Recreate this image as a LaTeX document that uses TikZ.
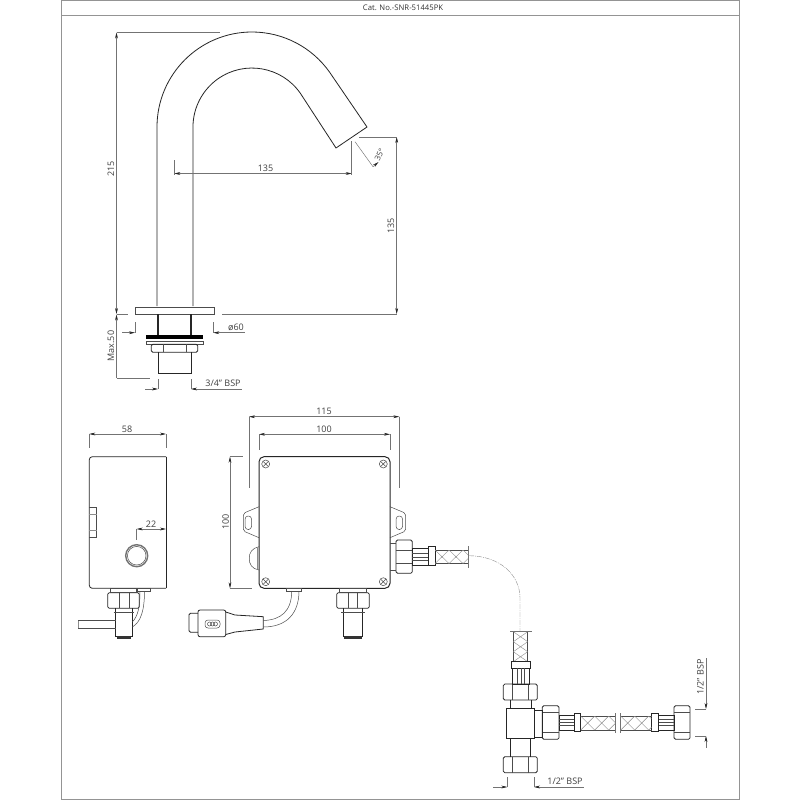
\documentclass[tikz,border=0pt]{standalone}
\usepackage{fontspec}
\setmainfont{Open Sans}
\usetikzlibrary{arrows.meta}
\tikzset{
  outl/.style={black!85,line width=.8pt},
  thin outl/.style={black!70,line width=.5pt},
  dim/.style={black!55,line width=.45pt},
  dimarr/.style={dim,>={Stealth[length=6pt,width=2.8pt,black!85]}},
  hatch/.style={black!45,line width=.4pt},
  txt/.style={inner sep=0pt,text=black!75,font=\fontsize{9}{10}\selectfont},
  ttl/.style={inner sep=0pt,text=black!80,font=\fontsize{7.7}{10}\selectfont},
}
\begin{document}
\begin{tikzpicture}[x=1pt,y=-1pt]
    \useasboundingbox (0,0) rectangle (800,800);
    \fill[white] (0,0) rectangle (800,800);

    % marco
    \draw[black!42,line width=.9pt] (61,.5) rectangle (739,799);
    \draw[black!42,line width=.9pt] (61,15) -- (739,15);
    \node[ttl] (title) at (403,7.5) {Cat. No.-SNR-51445PK};

    % grifo
    \draw[outl] (157,306) -- (157,127) arc (180:325:95) -- (367,127) -- (336,148)
        -- (300.3,93.2) arc (325:180:59) -- (193,306);
    \draw[thin outl,line width=.7pt] (135,307.5) rectangle (214,314.3);
    \draw[outl,line width=1.1pt] (158,314.3) -- (158,335) (191,314.3) -- (191,335);
    \fill[black] (145.7,335) rectangle (203.3,339);
    \draw[thin outl] (146,341) rectangle (203.5,344.3);
    \draw[outl] (158,352.3) -- (158,373.3) -- (191,373.3) -- (191,352.3);

    % cotas grifo
    \draw[dimarr,<->] (116.5,32.5) -- (116.5,314);
    \draw[dim] (116.5,32.5) -- (220,32.5) (116.5,314) -- (128,314);
    \draw[dimarr,<-] (116.5,314.5) -- (116.5,378);
    \draw[dim] (116.5,378) -- (150,378);
    \node[txt,rotate=90] (d215) at (111,169) {215};
    \node[txt,rotate=90] (dmax) at (111,346) {Max.50};
    \draw[dimarr,<->] (174.3,173.5) -- (351.7,173.5);
    \draw[dim] (174.3,160) -- (174.3,175) (351.7,141) -- (351.7,175);
    \node[txt] (dreach) at (265.5,168) {135};
    \draw[dimarr,<->] (396.7,137) -- (396.7,314);
    \draw[dim] (359,137) -- (396.7,137) (222,314) -- (396.7,314);
    \node[txt,rotate=90] (dhigh) at (391,226) {135};
    \draw[dim] (355,141.7) -- (373,166.7);
    \draw[dimarr,->] (373,166.7) -- (378.5,162);
    \node[txt,rotate=65,font=\fontsize{8}{10}\selectfont] (dang) at (379.5,155) {35°};
    \draw[dimarr,<-] (135,332.7) -- (122,332.7);
    \draw[dim] (135,322) -- (135,333);
    \draw[dimarr,<-] (213.3,332.7) -- (245,332.7);
    \draw[dim] (213.3,322) -- (213.3,333);
    \node[txt] (dphi) at (236,327) {ø60};
    \draw[dimarr,<-] (158,389) -- (145,389);
    \draw[dim] (158,379) -- (158,389);
    \draw[dimarr,<-] (191,389) -- (241.7,389);
    \draw[dim] (191,379) -- (191,389);
    \node[txt] (dthread) at (223,383) {3/4" BSP};

    % sensor
    \draw[outl,rounded corners=3pt] (166,456.7) -- (89.3,456.7) -- (89.3,588.3) -- (166,588.3);
    \draw[outl] (166,456.7) -- (166,588.3);
    \draw[thin outl] (89.3,507.7) -- (96.7,507.7) -- (96.7,537.3) -- (89.3,537.3);
    \draw[hatch] (89.3,514) -- (96.7,514) (89.3,530) -- (96.7,530);
    \draw[black!55,line width=1.4pt] (136.7,555.7) circle (11);
    \draw[thin outl] (136.7,555.7) circle (9.3);
    \draw[dimarr,<->] (89.3,434) -- (166,434);
    \draw[dim] (89.3,434) -- (89.3,448) (166,434) -- (166,448);
    \node[txt] (dwide) at (127,429.5) {58};
    \draw[dimarr,<->] (136.7,529) -- (166,529);
    \draw[dim] (136.7,529) -- (136.7,540);
    \node[txt] (dbtn) at (151,524) {22};

    % caja
    \draw[outl,line width=1pt,rounded corners=5pt] (259,456.7) rectangle (390,588.3);
    \foreach \x/\y in {265.7/464,383.3/464,265.7/581.7,383.3/581.7} {
        \draw[thin outl] (\x,\y) circle (4);
        \draw[thin outl] (\x-2.5,\y-2.5) -- (\x+2.5,\y+2.5) (\x-2.5,\y+2.5) -- (\x+2.5,\y-2.5);
    }
    % orejas
    \draw[thin outl,rounded corners=2pt] (259,506.7) -- (243.3,513.3) -- (243.3,531) -- (259,537.7);
    \draw[thin outl,rounded corners=2pt] (390,506.7) -- (405.7,513.3) -- (405.7,531) -- (390,537.7);
    \foreach \x in {248.3,399.3}
        \draw[thin outl,rounded corners=3pt] (\x-3.2,516) rectangle (\x+3.2,529.5);
    \draw[thin outl] (259,546.7) .. controls (252,548) and (249,553) .. (249.3,558.3)
        .. controls (249,564) and (252,569) .. (259,570);
    \draw[hatch] (256.7,547.5) -- (256.7,569);

    % cotas caja
    \draw[dimarr,<->] (249,416.7) -- (399.3,416.7);
    \draw[dim] (249,416.7) -- (249,488) (399.3,416.7) -- (399.3,488);
    \node[txt] (dfull) at (324,411.5) {115};
    \draw[dimarr,<->] (259,434.3) -- (390,434.3);
    \draw[dim] (259,434.3) -- (259,450) (390,434.3) -- (390,450);
    \node[txt] (dbox) at (324,429) {100};
    \draw[dimarr,<->] (230,456.7) -- (230,588.3);
    \draw[dim] (230,456.7) -- (243,456.7) (230,588.3) -- (251.7,588.3);
    \node[txt,rotate=90] (dtall) at (225.7,521.7) {100};

    % tuercas (eje vertical)
    \foreach \xa/\ya/\xb/\yb/\fa/\fb in {151.3/344.3/197.7/352.3/163/186,
        107.7/592.7/139.3/608.3/119/129.3, 336.7/592.7/369.3/608.3/348.3/357.7,
        503.3/684/537.3/700/512.3/528.3, 503.3/756.7/537.3/772.7/512.3/528.3} {
        \draw[outl,rounded corners=1.5pt] (\xa,\ya) rectangle (\xb,\yb);
        \draw[thin outl] (\fa,\ya) -- (\fa,\yb) (\fb,\ya) -- (\fb,\yb);
    }
    % tuercas (eje horizontal)
    \foreach \xa/\ya/\xb/\yb/\fa/\fb in {396/540/412.3/573.3/550/563.3,
        542.3/705.7/559/739.3/712.3/732.3, 674/705.7/690/739.3/712.3/732.3} {
        \draw[outl,rounded corners=1.5pt] (\xa,\ya) rectangle (\xb,\yb);
        \draw[thin outl] (\xa,\fa) -- (\xb,\fa) (\xa,\fb) -- (\xb,\fb);
    }

    % conexiones inferiores
    \foreach \xa/\xb/\ya in {110/137/588.3, 339.3/366.7/588.3}
        \draw[thin outl] (\xa,\ya) rectangle (\xb,592.7);
    \foreach \xa/\xb in {115.7/132.3, 343.3/362.7} {
        \draw[outl] (\xa,608.3) -- (\xa,636) -- (\xb,636) -- (\xb,608.3);
        \draw[thin outl] (\xa-2,612) -- (\xb+2,612);
        \fill[black!80] (\xa+1,636) rectangle (\xb-1,639);
    }
    % cables sensor
    \draw[thin outl] (115.7,620.7) -- (78.3,620.7) (115.7,628.3) -- (78.3,628.3);
    \draw[hatch] (78.3,620.7) -- (78.3,628.3);
    \draw[thin outl] (136,588.3) rectangle (150,591);
    \draw[thin outl] (140,591) .. controls (140,607) and (138,616) .. (132.3,622);
    \draw[thin outl] (144.5,591) .. controls (144.5,610) and (141,622) .. (132.3,627);

    % conector
    \draw[outl,rounded corners=1.5pt] (198,613.3) -- (189,613.3) -- (189,632.3) -- (198,632.3);
    \draw[outl,rounded corners=2pt] (198,610) rectangle (225.7,636.7);
    \draw[outl] (225.7,612) -- (235,615) -- (263.3,616.7) -- (263.3,629) -- (235,632) -- (225.7,634.5);
    \draw[thin outl,rounded corners=3pt] (205,620) rectangle (220,628);
    \foreach \x in {209.5,212.5,215.5}
        \draw[thin outl] (\x,624) circle (2);
    \draw[thin outl] (286,588.5) rectangle (301.7,591);
    \draw[thin outl] (263.3,620.5) .. controls (281,620) and (291.7,611) .. (291.7,591);
    \draw[thin outl] (263.3,627) .. controls (287,627) and (299,613) .. (299,591);

    % salida caja
    \draw[thin outl] (390,543.3) -- (396,543.3) (390,570) -- (396,570);
    \draw[outl] (412.3,548.3) rectangle (428,565.7);
    \draw[thin outl] (412.3,553.5) -- (428,553.5) (412.3,556.8) -- (428,556.8) (412.3,560.3) -- (428,560.3);
    \draw[outl] (428,546.7) rectangle (435,565.7);

    % latiguillo curvo
    \draw[hatch,dash pattern=on 5pt off 1pt on 1pt off 1pt] (469,555.7)
        .. controls (500,556) and (520,575) .. (520,598) -- (520,631);

    % latiguillo vertical y cuerpo en T
    \draw[dim] (510,631.7) -- (531.7,631.7);
    \draw[thin outl] (513.3,631.7) -- (513.3,661.7) (527.7,631.7) -- (527.7,661.7);
    \begin{scope}
        \clip (513.3,631.7) rectangle (527.7,661.7);
        \foreach \k in {0,1,2}
            \draw[hatch] (513.3,631.7+\k*10) -- (527.7,641.7+\k*10) (527.7,631.7+\k*10) -- (513.3,641.7+\k*10);
    \end{scope}
    \draw[outl] (511.7,661.7) rectangle (530,668.3);
    \draw[outl] (512.3,668.3) rectangle (529,684);
    \draw[thin outl] (517.5,668.3) -- (517.5,684) (521,668.3) -- (521,684) (524.5,668.3) -- (524.5,684);
    \draw[outl] (510,700) -- (510,708.3) (531,700) -- (531,708.3);
    \draw[outl] (506,708.3) rectangle (534.3,738.3);
    \draw[outl] (534.3,710) rectangle (542.3,737.3);
    \draw[outl] (510,738.3) -- (510,756.7) (530,738.3) -- (530,756.7);

    % latiguillo horizontal
    \foreach \xa/\xb/\xc/\xd in {559/574.3/574.3/580.7, 674/658.3/658.3/651.7} {
        \draw[outl] (\xa,715) rectangle (\xb,730);
        \draw[thin outl] (\xa,719.5) -- (\xb,719.5) (\xa,722.5) -- (\xb,722.5) (\xa,725.7) -- (\xb,725.7);
        \draw[outl] (\xc,713.3) rectangle (\xd,731.7);
    }

    % mallas horizontales
    \foreach \xa/\xb/\ya/\yb/\ta/\tb in {435/468/550/563.5/546/567.5, 580.7/615/716/730/713/733} {
        \draw[thin outl] (\xa,\ya) -- (\xb,\ya) (\xa,\yb) -- (\xb,\yb);
        \draw[dim] (\xb,\ta) -- (\xb,\tb);
        \begin{scope}
            \clip (\xa,\ya) rectangle (\xb,\yb);
            \foreach \k in {0,1,2}
                \draw[hatch] (\xa+\k*14,\ya) -- (\xa+14+\k*14,\yb) (\xa+14+\k*14,\ya) -- (\xa+\k*14,\yb);
        \end{scope}
    }
    \draw[thin outl] (620.7,716) -- (651.7,716) (620.7,730) -- (651.7,730);
    \draw[dim] (620.7,713) -- (620.7,733);
    \begin{scope}
        \clip (620.7,716) rectangle (651.7,730);
        \foreach \k in {0,1,2}
            \draw[hatch] (620.7+\k*14,716) -- (634.7+\k*14,730) (634.7+\k*14,716) -- (620.7+\k*14,730);
    \end{scope}

    % cotas racores
    \draw[dimarr,<-] (507.3,787) -- (493.3,787);
    \draw[dim] (507.3,777) -- (507.3,787);
    \draw[dimarr,<-] (534,787) -- (584,787);
    \draw[dim] (534,777) -- (534,787);
    \node[txt] (dlow) at (565,781) {1/2" BSP};
    \draw[dimarr,<-] (706,709) -- (706,658);
    \draw[dim] (695,709) -- (706,709);
    \draw[dimarr,<-] (706,736) -- (706,748);
    \draw[dim] (695,736) -- (706,736);
    \node[txt,rotate=90] (dside) at (700.5,677) {1/2" BSP};
\end{tikzpicture}
\end{document}
